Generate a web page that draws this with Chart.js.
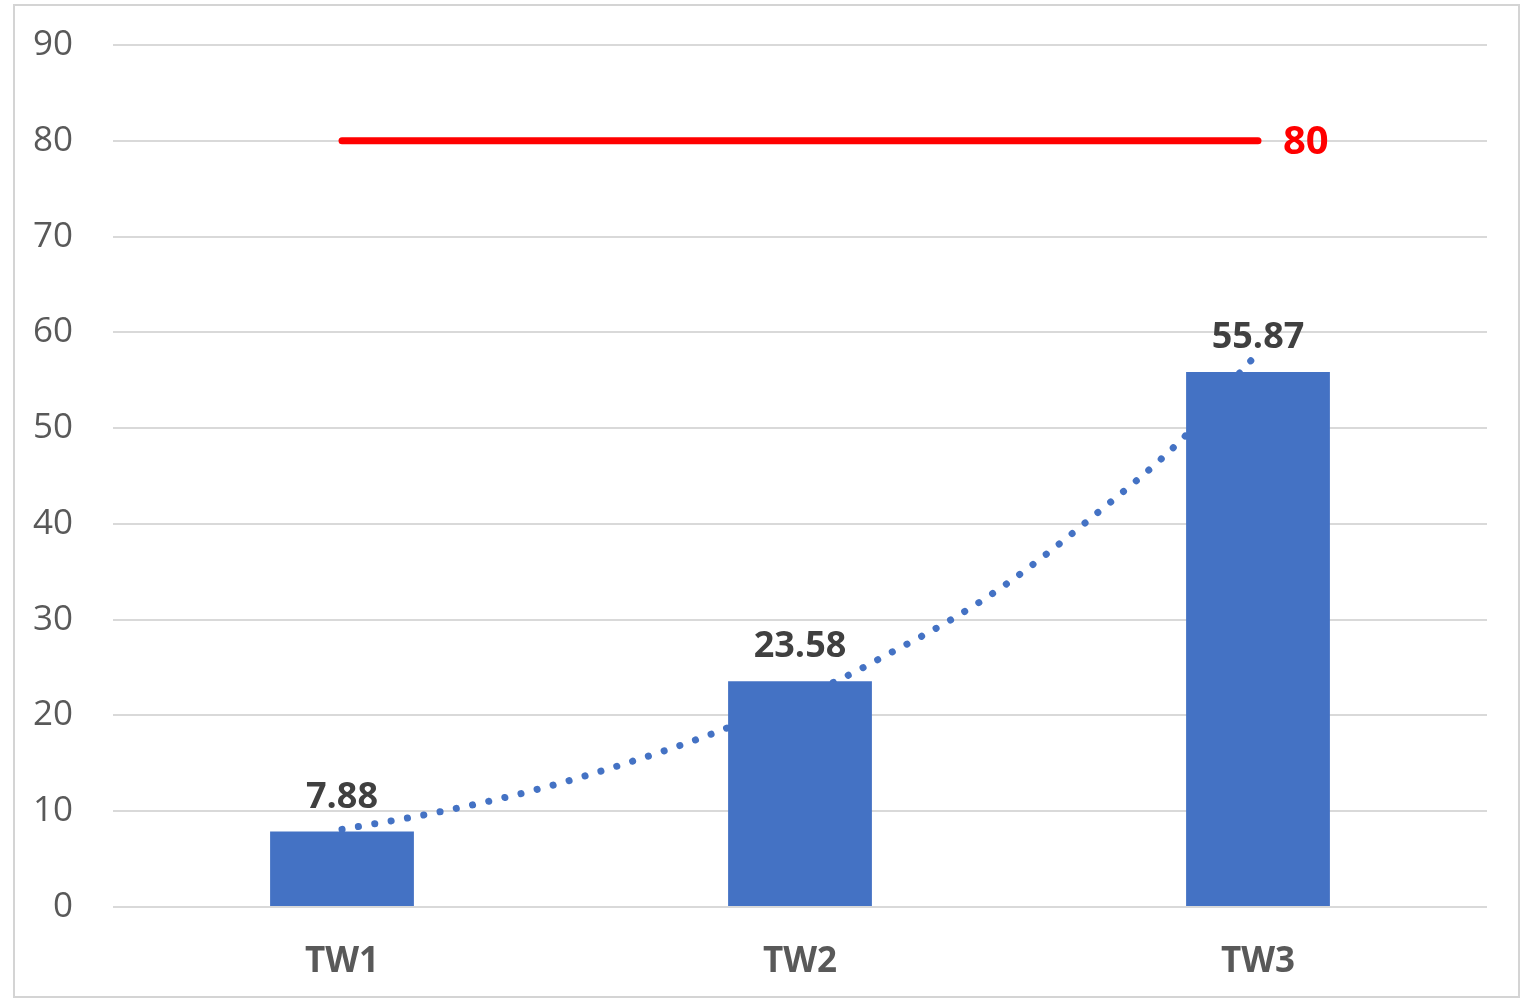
<!DOCTYPE html>
<html>
<head>
<meta charset="utf-8">
<script src="https://cdn.jsdelivr.net/npm/chart.js@4/dist/chart.umd.min.js"></script>
<style>
  body { margin: 0; background: #fff; }
  #wrap { position: relative; width: 1522px; height: 999px; }
  #frame { position: absolute; left: 13px; top: 4px; width: 1503px; height: 990px;
           border: 2px solid #d4d4d4; pointer-events: none; }
</style>
</head>
<body>
<div id="wrap">
  <canvas id="chart" width="1522" height="999"></canvas>
  <div id="frame"></div>
</div>
<script>
// data
var categories = ['TW1', 'TW2', 'TW3'];
var values = [7.88, 23.58, 55.87];
var targetValue = 80;
var targetLabel = '80';
// dotted trend curve, sampled along the category index (0 = TW1, 2 = TW3)
var trendX = [0, 0.21, 0.42, 0.62, 0.82, 1.08, 1.2, 1.33, 1.45, 1.62, 1.85, 1.97, 2.0];
var trendY = [8.1, 9.9, 12.2, 15.0, 18.3, 23.6, 26.6, 30.0, 33.7, 40.0, 49.6, 56.3, 57.8];
var yMin = 0, yMax = 90, yStep = 10;

var barColor = '#4472C4';
var font = "'Open Sans', 'DejaVu Sans', sans-serif";

var trendPoints = trendX.map(function (x, i) { return { x: x, y: trendY[i] }; });
var targetPoints = [{ x: 0, y: targetValue }, { x: categories.length - 1, y: targetValue }];

// value labels over the bars and the "80" next to the red line
var labelPlugin = {
    id: 'labels',
    afterDatasetsDraw: function (chart) {
        var ctx = chart.ctx;
        ctx.save();
        ctx.font = 'bold 36px ' + font;
        ctx.fillStyle = '#404040';
        ctx.textAlign = 'center';
        ctx.textBaseline = 'alphabetic';
        chart.getDatasetMeta(0).data.forEach(function (bar, i) {
            ctx.fillText(values[i].toFixed(2), bar.x, bar.y - 24);
        });
        var meta = chart.getDatasetMeta(2);
        var last = meta.data[meta.data.length - 1];
        ctx.font = 'bold 40px ' + font;
        ctx.fillStyle = '#ff0000';
        ctx.textAlign = 'left';
        ctx.textBaseline = 'middle';
        ctx.fillText(targetLabel, last.x + 25, last.y + 2);
        ctx.restore();
    }
};

var ctx = document.getElementById('chart').getContext('2d');
var myChart = new Chart(ctx, {
    type: 'bar',
    data: {
        labels: categories,
        datasets: [{
            type: 'bar',
            data: values,
            backgroundColor: barColor,
            barPercentage: 0.314,
            categoryPercentage: 1,
            grouped: false,
            order: 2
        }, {
            type: 'line',
            data: trendPoints,
            xAxisID: 'xl',
            borderColor: barColor,
            borderWidth: 7,
            borderDash: [0.1, 16.5],
            borderCapStyle: 'round',
            pointRadius: 0,
            tension: 0.4,
            cubicInterpolationMode: 'monotone',
            fill: false,
            order: 3
        }, {
            type: 'line',
            data: targetPoints,
            xAxisID: 'xl',
            borderColor: '#ff0000',
            borderWidth: 7,
            borderCapStyle: 'round',
            pointRadius: 0,
            fill: false,
            order: 1
        }]
    },
    options: {
        responsive: false,
        animation: false,
        layout: { padding: { left: 0, right: 35, top: 45, bottom: 10 } },
        plugins: { legend: { display: false }, tooltip: { enabled: false } },
        scales: {
            x: {
                offset: true,
                grid: { display: false },
                border: { display: false },
                ticks: { color: '#595959', font: { family: font, size: 35, weight: 'bold' }, padding: 26 },
                afterFit: function (s) { s.height = 82; }
            },
            xl: {
                type: 'linear',
                display: false,
                offset: false,
                grid: { offset: false },
                min: -0.5,
                max: categories.length - 0.5
            },
            y: {
                min: yMin,
                max: yMax,
                grid: { color: '#d9d9d9', lineWidth: 2, drawTicks: false },
                border: { display: false },
                ticks: { stepSize: yStep, color: '#595959', font: { family: font, size: 35 }, padding: 40 },
                afterFit: function (s) { s.width = 113; s.paddingTop = 0; s.paddingBottom = 0; }
            }
        }
    },
    plugins: [labelPlugin]
});
</script>
</body>
</html>
